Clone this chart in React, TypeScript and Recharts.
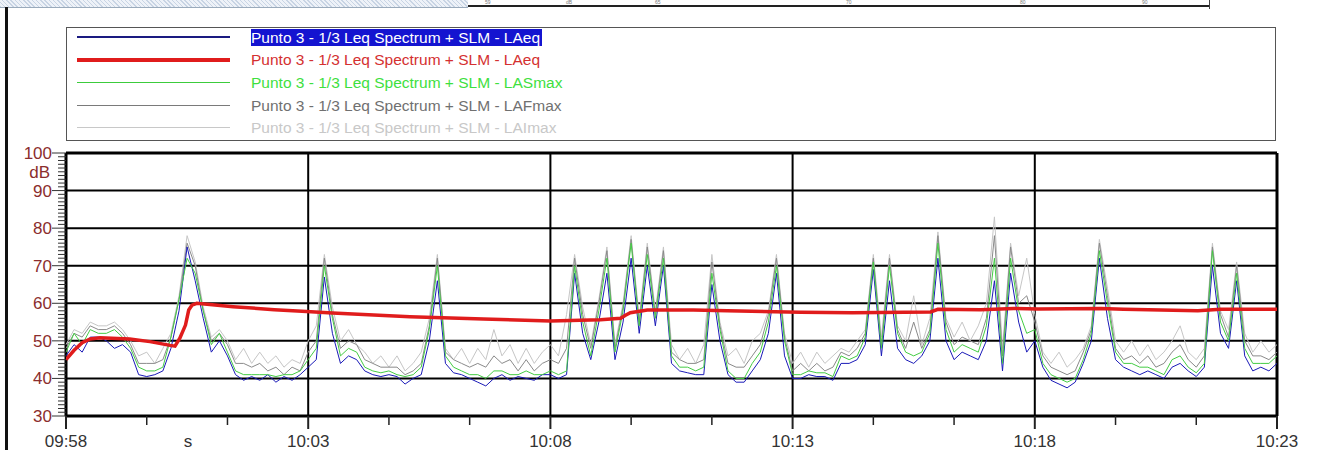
import React from "react";
import { LineChart, Line, XAxis, YAxis, CartesianGrid } from "recharts";

// one sample every 10 s, starting at 09:58:00
const STEP = 10;

const laeq = [
  46, 49, 47, 51, 51, 50, 48, 49, 47, 41,
  40.5, 41, 42, 48, 58, 75, 66, 56, 47, 50,
  46, 41, 39.5, 40.5, 39.5, 41, 39, 40.5, 39.5, 41,
  43, 45, 67, 52, 44, 46, 45, 42, 41, 40.5,
  41, 40.5, 38.5, 40, 41, 50, 66, 44, 41.5, 41,
  40, 39, 38, 40, 41, 39.5, 40.5, 40, 39.5, 41,
  41, 40, 41, 68, 52, 45, 55, 68, 45, 55,
  72, 52, 70, 54, 70, 44, 42, 41.5, 41, 41,
  65, 50, 41, 39, 39, 42, 45, 52, 68, 46,
  40, 40, 41, 40.5, 40.5, 39.5, 44, 44, 45, 49,
  69, 46, 66, 48, 45, 44, 46, 50, 72, 50,
  45, 47, 46, 45, 50, 66, 42, 68, 55, 47,
  50, 43, 39.5, 38.5, 37.5, 39, 44, 50, 72, 56,
  45, 43, 42, 41, 42, 41, 40, 43, 44, 42,
  40.5, 43, 70, 52, 48, 66, 46, 42, 43, 42,
  44,
];

const lasmax = [
  47, 52, 49, 53, 52, 52, 53, 51, 48, 43,
  42, 42, 43, 51, 61, 72, 68, 58, 49, 52,
  47, 42, 41, 41, 41, 41, 40.5, 41, 41, 42,
  45, 48, 70, 56, 46, 48, 47, 43, 42, 41.5,
  42, 41, 40.5, 41, 43, 53, 70, 46, 43, 42,
  41, 41, 40, 42, 42, 41, 41, 42, 41, 41,
  42, 41, 42, 70, 55, 46, 58, 72, 47, 58,
  76, 54, 73, 56, 72, 46, 43, 43, 42, 43,
  68, 53, 42, 40, 40, 44, 47, 55, 70, 50,
  41, 41, 42, 41.5, 41.5, 40.5, 46, 45, 46, 51,
  71, 48, 70, 52, 47, 46, 47, 52, 76, 53,
  47, 49, 48, 47, 54, 72, 44, 72, 58, 52,
  53, 44, 41, 40, 39, 40, 45, 52, 74, 60,
  47, 44, 44, 43, 43, 42, 41, 45, 46, 43,
  41.5, 44, 74, 55, 50, 68, 48, 44, 44, 44,
  46,
];

const lafmax = [
  48, 52, 51, 54, 53, 53, 54, 52, 49, 44,
  44, 44, 45, 51, 61, 76, 70, 58, 50, 52,
  49, 44, 44, 43, 44, 42, 43, 41, 43, 42,
  47, 50, 72, 57, 48, 50, 49, 45, 44, 43,
  43, 43, 41, 42, 44, 54, 72, 47, 45, 44,
  43, 44, 43, 46, 44, 45, 42, 45, 42, 44,
  45, 44, 48, 72, 57, 48, 60, 74, 48, 59,
  77, 55, 75, 57, 74, 47, 45, 44, 44, 45,
  71, 54, 44, 43, 43, 46, 49, 57, 72, 51,
  42, 44, 42, 44, 42, 43, 47, 46, 48, 52,
  72, 49, 72, 53, 48, 55, 48, 53, 78, 55,
  49, 51, 50, 49, 56, 78, 46, 75, 60, 62,
  55, 46, 43, 42, 41, 42, 47, 53, 76, 62,
  48, 45, 46, 44, 46, 43, 44, 47, 49, 45,
  43, 46, 75, 57, 51, 70, 50, 46, 46, 45,
  47,
];

const laimax = [
  49, 53, 52, 55, 54, 54, 55, 53, 50, 46,
  47, 44, 48, 52, 62, 78, 71, 59, 51, 53,
  50, 45, 48, 44, 47, 44, 46, 43, 45, 44,
  50, 54, 73, 59, 50, 53, 49, 47, 44, 46,
  43, 46, 42, 44, 47, 56, 73, 48, 45, 48,
  44, 48, 45, 53, 46, 49, 44, 48, 44, 47,
  49, 46, 57, 73, 59, 49, 61, 75, 49, 60,
  78, 56, 76, 58, 75, 49, 45, 48, 44, 49,
  73, 55, 46, 48, 44, 50, 52, 58, 73, 52,
  44, 47, 43, 47, 44, 46, 48, 47, 50, 53,
  73, 51, 73, 54, 50, 62, 49, 56, 79, 56,
  51, 55, 50, 54, 60, 83, 48, 76, 62, 72,
  57, 47, 44, 47, 43, 45, 48, 54, 77, 64,
  50, 47, 50, 46, 49, 45, 47, 50, 54, 47,
  45, 48, 76, 58, 53, 71, 52, 47, 50, 47,
  49,
];

// running LAeq (red), seconds from start
const leqTimes = [
  0, 10, 20, 30, 42, 79, 104, 129, 135, 141, 148, 152, 156, 162, 207, 258,
  298, 330, 426, 517, 600, 662, 687, 693, 699, 720, 777, 819, 910, 974,
  1071, 1080, 1133, 1174, 1204, 1282, 1310, 1402, 1430, 1500,
];
const leqValues = [
  45, 47.5, 49.5, 50.5, 50.8, 50.5, 49.8, 48.8, 48.6, 50.7, 54.2, 58.2, 59.5,
  60, 59.1, 58.3, 57.8, 57.4, 56.4, 55.8, 55.3, 55.6, 56, 56.8, 57.5, 58.2,
  58.2, 58, 57.6, 57.5, 57.7, 58.4, 58.3, 58.6, 58.5, 58.6, 58.4, 58, 58.4,
  58.4,
];

const timeLabels = ["09:58", "10:03", "10:08", "10:13", "10:18", "10:23"];
const majorTimes = [0, 300, 600, 900, 1200, 1500];
const xTicks = [
  0, 100, 200, 300, 400, 500, 600, 700, 800, 900, 1000, 1100, 1200, 1300,
  1400, 1500,
];
const yTicks = Array.from({ length: 71 }, (_, i) => 30 + i);

// scraps of the report table above the chart
const headerBits = ["59", "dB", "65", "70", "80", "90"];
const headerX = [485, 566, 655, 846, 1020, 1142];

const legendItems = [
  { name: "Punto 3 - 1/3 Leq Spectrum + SLM - LAeq", line: "#1a1a80", width: 1.5, text: "#ffffff", highlight: true },
  { name: "Punto 3 - 1/3 Leq Spectrum + SLM - LAeq", line: "#e01c1c", width: 4, text: "#d43030", highlight: false },
  { name: "Punto 3 - 1/3 Leq Spectrum + SLM - LASmax", line: "#3ccc3c", width: 1.5, text: "#3ee03e", highlight: false },
  { name: "Punto 3 - 1/3 Leq Spectrum + SLM - LAFmax", line: "#7a7a7a", width: 1, text: "#707070", highlight: false },
  { name: "Punto 3 - 1/3 Leq Spectrum + SLM - LAImax", line: "#c8c8c8", width: 1, text: "#c8c8c8", highlight: false },
];

const FONT = "'Liberation Sans', Arial, sans-serif";

const data = laeq.map((v, i) => ({
  t: i * STEP,
  laeq: v,
  lasmax: lasmax[i],
  lafmax: lafmax[i],
  laimax: laimax[i],
}));

const leqData = leqTimes.map((t, i) => ({ t, leq: leqValues[i] }));

const YTick = (props: any) => {
  const { x, y, payload } = props;
  const v = payload.value;
  const major = v % 10 === 0;
  return (
    <g>
      <line x1={x - (major ? 14 : 8)} x2={x} y1={y} y2={y} stroke="#333" strokeWidth={1} />
      {major && (
        <text x={x - 14} y={y} dy={6} textAnchor="end" fontSize={17} fill="#8b2d2d" fontFamily={FONT}>
          {v}
        </text>
      )}
      {v === 95 && (
        <text x={x - 16} y={y} dy={6} textAnchor="end" fontSize={17} fill="#8b2d2d" fontFamily={FONT}>
          dB
        </text>
      )}
    </g>
  );
};

const XTick = (props: any) => {
  const { x, y, payload } = props;
  const t = payload.value;
  const idx = majorTimes.indexOf(t);
  const major = idx >= 0;
  return (
    <g>
      <line x1={x} x2={x} y1={y} y2={y + (major ? 13 : 9)} stroke="#222" strokeWidth={major ? 2 : 1.5} />
      {major && (
        <text x={x} y={y + 31} textAnchor="middle" fontSize={17} fill="#333" fontFamily={FONT}>
          {timeLabels[idx]}
        </text>
      )}
    </g>
  );
};

const renderUnit = (props: any) => {
  const vb = props.viewBox || { x: 66, y: 416 };
  return (
    <text x={vb.x + 122} y={vb.y + 31} textAnchor="middle" fontSize={17} fill="#333" fontFamily={FONT}>
      s
    </text>
  );
};

const App: React.FC = () => {
  return (
    <div style={{ position: "absolute", left: 0, top: 0, width: 1343, height: 450, background: "#fff", overflow: "hidden" }}>
      {/* strip of the report page above the chart */}
      <div
        style={{
          position: "absolute", left: 0, top: 0, width: 468, height: 7,
          background: "repeating-linear-gradient(45deg, #c8d4e4 0 1px, #eef2f8 1px 3px)",
          borderBottom: "1px solid #9aaabb",
        }}
      />
      <div style={{ position: "absolute", left: 468, top: 5, width: 742, height: 1.5, background: "#222" }} />
      <div style={{ position: "absolute", left: 1209, top: 0, width: 1, height: 9, background: "#444" }} />
      {headerBits.map((s, i) => (
        <div
          key={i}
          style={{
            position: "absolute", left: headerX[i], top: 0, fontSize: 5, lineHeight: "5px",
            color: "#777", fontFamily: FONT,
          }}
        >
          {s}
        </div>
      ))}
      <div style={{ position: "absolute", left: 5, top: 7, width: 3, height: 443, background: "#111" }} />

      {/* legend box */}
      <div
        style={{
          position: "absolute", left: 66, top: 27, width: 1210, height: 114,
          border: "1px solid #555", boxSizing: "border-box", background: "#fff",
        }}
      />
      {legendItems.map((it, i) => {
        const cy = 37 + i * 22.7;
        return (
          <div key={i}>
            <div
              style={{
                position: "absolute", left: 77, top: cy - it.width / 2, width: 153,
                height: it.width, background: it.line,
              }}
            />
            <div
              style={{
                position: "absolute", left: 251, top: cy - 8.5, height: 17, lineHeight: "17px",
                fontSize: 15.5, fontFamily: FONT, color: it.text, whiteSpace: "nowrap",
                background: it.highlight ? "#1414d0" : "transparent", paddingRight: 2,
              }}
            >
              {it.name}
            </div>
          </div>
        );
      })}

      <div style={{ position: "absolute", left: 0, top: 0 }}>
        <LineChart
          width={1343}
          height={450}
          data={data}
          margin={{ top: 153, right: 66, left: 0, bottom: 0 }}
        >
          <CartesianGrid
            horizontalValues={[40, 50, 60, 70, 80, 90]}
            verticalValues={[300, 600, 900, 1200]}
            stroke="#000"
            strokeWidth={2}
            strokeOpacity={1}
          />
          <CartesianGrid
            horizontalValues={[30, 100]}
            verticalValues={[0, 1500]}
            stroke="#000"
            strokeWidth={3}
            strokeOpacity={1}
          />
          <XAxis
            dataKey="t"
            type="number"
            domain={[0, 1500]}
            ticks={xTicks}
            interval={0}
            height={34}
            axisLine={false}
            tickLine={false}
            tickSize={0}
            tickMargin={0}
            tick={<XTick />}
            label={renderUnit}
            allowDataOverflow
          />
          <YAxis
            type="number"
            domain={[30, 100]}
            ticks={yTicks}
            interval={0}
            width={66}
            axisLine={false}
            tickLine={false}
            tickSize={0}
            tickMargin={0}
            tick={<YTick />}
            allowDataOverflow
          />
          <Line type="linear" dataKey="laimax" stroke="#c6c6c6" strokeWidth={1} dot={false} isAnimationActive={false} />
          <Line type="linear" dataKey="lafmax" stroke="#8a8a8a" strokeWidth={1} dot={false} isAnimationActive={false} />
          <Line type="linear" dataKey="laeq" stroke="#1a1ab8" strokeWidth={1} dot={false} isAnimationActive={false} />
          <Line type="linear" dataKey="lasmax" stroke="#44cc44" strokeWidth={1} dot={false} isAnimationActive={false} />
          <Line
            type="linear"
            data={leqData}
            dataKey="leq"
            stroke="#e01c1c"
            strokeWidth={3.5}
            dot={false}
            isAnimationActive={false}
          />
        </LineChart>
      </div>
    </div>
  );
};

export default App;
